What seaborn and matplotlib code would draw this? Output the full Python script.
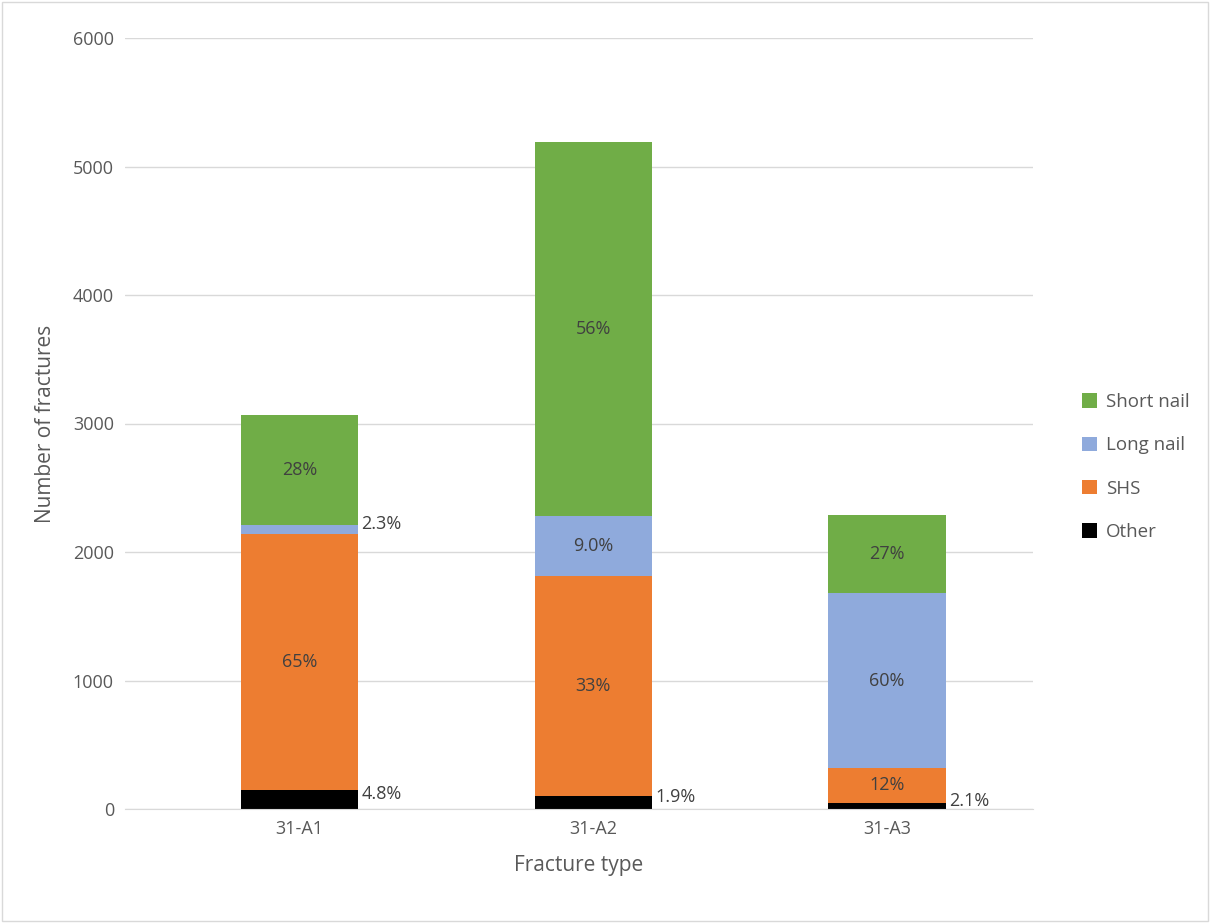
import matplotlib
matplotlib.use("Agg")
import matplotlib.pyplot as plt
import seaborn as sns
import pandas as pd
import numpy as np

categories = ["31-A1", "31-A2", "31-A3"]
series = ["Other", "SHS", "Long nail", "Short nail"]
other = [147, 99, 48]
shs = [1993, 1713, 270]
long_nail = [70, 467, 1360]
short_nail = [856, 2911, 609]
labels = {
    "Other": ["4.8%", "1.9%", "2.1%"],
    "SHS": ["65%", "33%", "12%"],
    "Long nail": ["2.3%", "9.0%", "60%"],
    "Short nail": ["28%", "56%", "27%"],
}
colors = {"Other": "#000000", "SHS": "#ED7D31", "Long nail": "#8FAADC", "Short nail": "#70AD47"}
values = {"Other": other, "SHS": shs, "Long nail": long_nail, "Short nail": short_nail}

sns.set_style("white")
plt.rcParams["font.family"] = ["Open Sans", "DejaVu Sans"]
fig = plt.figure(figsize=(12.1, 9.23), dpi=100)
ax = fig.add_axes([125/1210, 1-809/923, (1033-125)/1210, (809-38)/923])

bottom = np.zeros(3)
for s in series:
    df = pd.DataFrame({"cat": categories, "val": values[s]})
    sns.barplot(data=df, x="cat", y="val", color=colors[s], bottom=bottom.copy(),
                width=0.4, ax=ax, label=s, saturation=1, linewidth=0)
    for i, v in enumerate(values[s]):
        lab = labels[s][i]
        if v < 160:
            ax.text(i + 0.21, bottom[i] + v / 2 + 40, lab, ha="left", va="center",
                    fontsize=13, color="#404040")
        else:
            ax.text(i, bottom[i] + v / 2, lab, ha="center", va="center",
                    fontsize=13, color="#404040")
    bottom += np.array(values[s])

ax.set_ylim(0, 6000)
ax.set_xlim(-0.595, 2.497)
ax.set_yticks(range(0, 6001, 1000))
ax.yaxis.grid(True, color="#D9D9D9", linewidth=1)
ax.set_axisbelow(True)
for sp in ["top", "right", "left"]:
    ax.spines[sp].set_visible(False)
ax.spines["bottom"].set_color("#D9D9D9")
ax.tick_params(axis="both", colors="#595959", labelsize=13, length=0, pad=8)
ax.set_xlabel("Fracture type", fontsize=15, color="#595959", labelpad=12)
ax.set_ylabel("Number of fractures", fontsize=15, color="#595959", labelpad=12)

h, l = ax.get_legend_handles_labels()
if ax.get_legend() is not None:
    ax.get_legend().remove()
leg = fig.legend(h[::-1], l[::-1], loc="center left", bbox_to_anchor=(1065/1210, 1-467/923),
                 frameon=False, fontsize=13.5, handlelength=0.8, handleheight=0.8,
                 labelspacing=1.35, handletextpad=0.5)
for t in leg.get_texts():
    t.set_color("#595959")

fig.patches.append(plt.Rectangle((0.002, 0.002), 0.996, 0.996, transform=fig.transFigure,
                                 fill=False, edgecolor="#D9D9D9", linewidth=1))
fig.savefig("out.png", dpi=100)
